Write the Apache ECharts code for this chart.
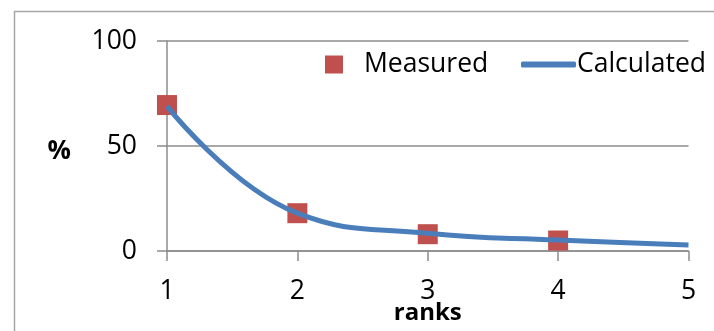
<!DOCTYPE html>
<html>
<head>
<meta charset="utf-8">
<script src="https://cdn.jsdelivr.net/npm/echarts@6/dist/echarts.min.js"></script>
<style>
html,body{margin:0;padding:0;background:#fff;}
#c{width:714px;height:331px;}
</style>
</head>
<body>
<div id="c"></div>
<script>
var ranks = [1, 2, 3, 4, 5];
var measuredRanks = [1, 2, 3, 4];
var measured = [69.5, 18, 8, 5];
var calculated = [69, 18, 8.4, 5.2, 2.9];
var yTicks = [0, 50, 100];

var chart = echarts.init(document.getElementById('c'));
var font = '"Open Sans", sans-serif';
var gray = '#8c8c8c';
chart.setOption({
  animation: false,
  backgroundColor: '#fff',
  grid: {left: 167, right: 25.5, top: 41, bottom: 80, containLabel: false, outerBoundsMode: 'none'},
  graphic: [{
    type: 'rect', left: 12, top: 9, silent: true,
    shape: {width: 760, height: 400},
    style: {fill: 'none', stroke: '#a6a6a6', lineWidth: 1.5}
  }],
  legend: [{
    left: 320, top: 46, itemWidth: 18, itemHeight: 18,
    icon: 'rect',
    data: ['Measured'],
    textStyle: {fontFamily: font, fontSize: 26.5, color: '#000', padding: [0, 0, 0, 16]}
  }, {
    left: 516, top: 46, itemWidth: 55, itemHeight: 6,
    icon: 'roundRect',
    data: ['Calculated'],
    textStyle: {fontFamily: font, fontSize: 26.5, color: '#000', padding: [0, 0, 0, -4]}
  }],
  xAxis: {
    type: 'value', min: 1, max: 5, interval: 1,
    name: 'ranks', nameLocation: 'middle', nameGap: 50, nameMoveOverlap: false,
    nameTextStyle: {fontFamily: font, fontSize: 24, fontWeight: 'bold', color: '#000'},
    axisLine: {lineStyle: {color: gray, width: 1.5}},
    axisTick: {show: true, length: 10, lineStyle: {color: gray, width: 1.5}},
    axisLabel: {fontFamily: font, fontSize: 26.5, color: '#000', margin: 27},
    splitLine: {show: false}
  },
  yAxis: {
    type: 'value', min: 0, max: 100, interval: 50,
    name: '%', nameLocation: 'middle', nameGap: 96, nameRotate: 0, nameMoveOverlap: false,
    nameTextStyle: {fontFamily: font, fontSize: 26, fontWeight: 'bold', color: '#000',
      verticalAlign: 'top', lineHeight: 12},
    axisLine: {show: true, lineStyle: {color: gray, width: 1.5}},
    axisTick: {show: true, length: 10, lineStyle: {color: gray, width: 1.5}},
    axisLabel: {fontFamily: font, fontSize: 26.5, color: '#000', margin: 30,
      formatter: function (v) { return yTicks.indexOf(v) >= 0 ? String(v) : ''; }},
    splitLine: {show: true, lineStyle: {color: gray, width: 1.5}}
  },
  series: [{
    name: 'Measured', type: 'scatter', symbol: 'rect', symbolSize: 20,
    itemStyle: {color: '#c0504d', opacity: 1},
    data: measuredRanks.map(function (r, i) { return [r, measured[i]]; }),
    z: 2
  }, {
    name: 'Calculated', type: 'line', smooth: 0.45, showSymbol: false,
    lineStyle: {color: '#4a7ebb', width: 5},
    itemStyle: {color: '#4a7ebb'},
    data: ranks.map(function (r, i) { return [r, calculated[i]]; }),
    z: 3
  }]
});
</script>
</body>
</html>
